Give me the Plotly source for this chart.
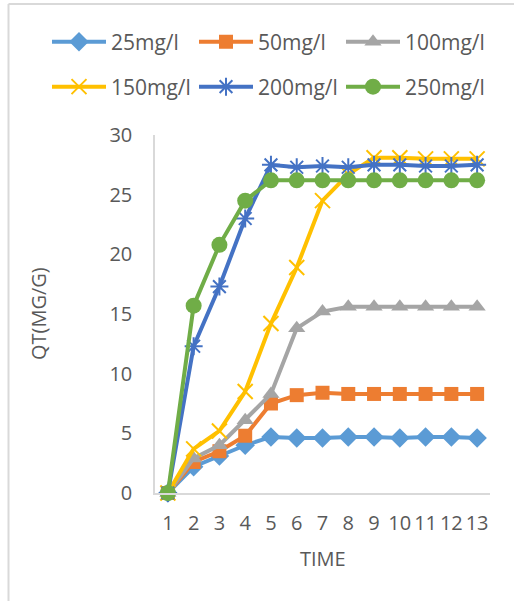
import plotly.graph_objects as go

time = [1, 2, 3, 4, 5, 6, 7, 8, 9, 10, 11, 12, 13]
names = ["25mg/l", "50mg/l", "100mg/l", "150mg/l", "200mg/l", "250mg/l"]
q25 = [0, 2.2, 3.1, 4.0, 4.7, 4.6, 4.6, 4.7, 4.7, 4.6, 4.7, 4.7, 4.6]
q50 = [0, 2.6, 3.5, 4.8, 7.5, 8.2, 8.4, 8.3, 8.3, 8.3, 8.3, 8.3, 8.3]
q100 = [0, 2.9, 4.0, 6.1, 8.3, 13.8, 15.2, 15.6, 15.6, 15.6, 15.6, 15.6, 15.6]
q150 = [0, 3.7, 5.2, 8.5, 14.2, 18.9, 24.5, 26.7, 28.1, 28.1, 28.0, 28.0, 28.0]
q200 = [0, 12.3, 17.3, 23.0, 27.5, 27.3, 27.4, 27.3, 27.5, 27.5, 27.4, 27.4, 27.5]
q250 = [0, 15.7, 20.8, 24.5, 26.2, 26.2, 26.2, 26.2, 26.2, 26.2, 26.2, 26.2, 26.2]
series = [q25, q50, q100, q150, q200, q250]

colors = ["#5B9BD5", "#ED7D31", "#A5A5A5", "#FFC000", "#4472C4", "#70AD47"]
symbols = ["diamond", "square", "triangle-up", "x-thin-open", "asterisk-open", "circle"]
sizes = [15, 14, 15, 15, 15, 16]
legends = ["legend", "legend", "legend", "legend2", "legend2", "legend2"]

fig = go.Figure()
for nm, ys, c, s, sz, lg in zip(names, series, colors, symbols, sizes, legends):
    fig.add_trace(go.Scatter(
        x=time, y=ys, name=nm, mode="lines+markers", legend=lg,
        line=dict(color=c, width=4),
        marker=dict(symbol=s, size=sz, color=c, line=dict(color=c, width=2 if "open" in s else 0)),
        cliponaxis=False,
    ))

font_color = "#595959"
leg_common = dict(orientation="h", xanchor="left", yanchor="middle",
                  itemwidth=54, entrywidth=78, font=dict(size=21, color=font_color),
                  bgcolor="rgba(0,0,0,0)")
fig.update_layout(
    width=514, height=601,
    margin=dict(l=155, r=24, t=135, b=108, autoexpand=False),
    paper_bgcolor="white", plot_bgcolor="white",
    font=dict(family="Open Sans", color=font_color, size=20),
    xaxis=dict(range=[0.5, 13.5], tickvals=time, ticktext=[str(t) for t in time],
               tickangle=0, showgrid=False, zeroline=False, showline=True,
               linecolor="#D9D9D9", linewidth=1.5, ticks="", ticklabelstandoff=11,
               tickfont=dict(size=20, color=font_color)),
    yaxis=dict(range=[0, 30], tickvals=[0, 5, 10, 15, 20, 25, 30],
               showgrid=False, zeroline=False, showline=True,
               linecolor="#D9D9D9", linewidth=1.5, ticks="", ticklabelstandoff=17,
               tickfont=dict(size=20, color=font_color)),
    legend=dict(x=(47 - 155) / 335, y=(493 - 42) / 358, **leg_common),
    legend2=dict(x=(47 - 155) / 335, y=(493 - 87) / 358, **leg_common),
    annotations=[
        dict(text="QT(MG/G)", x=(38 - 155) / 335, xref="paper", xanchor="center",
             y=0.5, yref="paper", yanchor="middle", showarrow=False,
             textangle=-90, font=dict(size=20, color=font_color)),
        dict(text="TIME", x=0.5, xref="paper", xanchor="center",
             y=0, yref="paper", yanchor="middle", yshift=-65,
             showarrow=False, font=dict(size=20, color=font_color)),
    ],
)
fig.add_shape(type="line", xref="paper", yref="paper",
              x0=(8.5 - 155) / 335, x1=(8.5 - 155) / 335,
              y0=(493 - 601) / 358, y1=(493 - 4) / 358,
              line=dict(color="#D9D9D9", width=2))
fig.add_shape(type="line", xref="paper", yref="paper",
              x0=(8.5 - 155) / 335, x1=(520 - 155) / 335,
              y0=(493 - 4) / 358, y1=(493 - 4) / 358,
              line=dict(color="#D9D9D9", width=2))

fig.write_html("out.html")
